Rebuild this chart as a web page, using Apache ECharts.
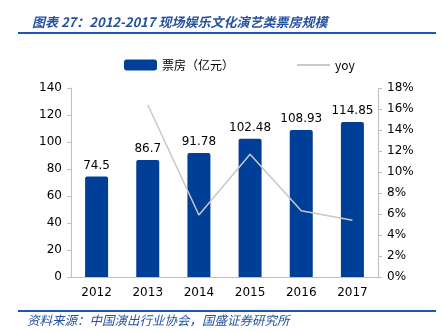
<!DOCTYPE html>
<html><head><meta charset="utf-8">
<script src="https://cdn.jsdelivr.net/npm/echarts@6/dist/echarts.min.js"></script>
<style>
html,body{margin:0;padding:0;background:#fff}
#c{width:443px;height:332px}
</style>
</head><body><div id="c"></div>
<script>
const years = ['2012','2013','2014','2015','2016','2017'];
const boxOffice = [74.5, 86.7, 91.78, 102.48, 108.93, 114.85];
const yoy = [null, 16.4, 5.9, 11.7, 6.3, 5.4];
const titleText = '图表 27：2012-2017 现场娱乐文化演艺类票房规模';
const sourceText = '资料来源：中国演出行业协会，国盛证券研究所';
const barName = '票房（亿元）';
const lineName = 'yoy';

const chart = echarts.init(document.getElementById('c'), null, {renderer:'canvas'});
const axisFont = {color:'#000', fontSize:12, fontFamily:'DejaVu Sans'};
chart.setOption({
  animation:false,
  backgroundColor:'#fff',
  title:{
    text:titleText, left:27, top:11,
    textStyle:{color:'#2450a0', fontStyle:'italic', fontWeight:'bold', fontSize:13, fontFamily:'Noto Sans CJK SC'}
  },
  graphic:[
    {type:'line', shape:{x1:18, y1:33, x2:436, y2:33}, style:{stroke:'#1f56b4', lineWidth:2}, z:10},
    {type:'line', shape:{x1:18, y1:311, x2:436, y2:311}, style:{stroke:'#1f56b4', lineWidth:2}, z:10},
    {type:'text', x:27, y:314, style:{text:sourceText, fill:'#2450a0', fontStyle:'italic', fontSize:12.5, fontFamily:'Noto Sans CJK SC'}, z:10}
  ],
  legend:{
    top:54, left:119, itemGap:62, itemWidth:33, itemHeight:11,
    textStyle:{color:'#000', fontSize:12, fontFamily:'Noto Sans CJK SC'},
    data:[{name:barName, icon:'roundRect'}, {name:lineName, itemStyle:{opacity:0}}]
  },
  grid:{left:71, right:65, top:88, bottom:55},
  xAxis:{
    type:'category', data:years,
    axisLine:{lineStyle:{color:'#bfbfbf'}},
    axisTick:{show:false},
    axisLabel:Object.assign({margin:10}, axisFont)
  },
  yAxis:[
    {type:'value', min:0, max:140, interval:20,
     axisLine:{show:true, lineStyle:{color:'#bfbfbf'}},
     axisTick:{show:true, length:4, lineStyle:{color:'#bfbfbf'}},
     splitLine:{show:false},
     axisLabel:Object.assign({margin:9}, axisFont)},
    {type:'value', min:0, max:18, interval:2, position:'right',
     axisLine:{show:true, lineStyle:{color:'#bfbfbf'}},
     axisTick:{show:true, length:4, lineStyle:{color:'#bfbfbf'}},
     splitLine:{show:false},
     axisLabel:Object.assign({margin:9, formatter:'{value}%'}, axisFont)}
  ],
  series:[
    {name:barName, type:'bar', data:boxOffice, barWidth:23,
     itemStyle:{color:'#003f98', borderRadius:[2,2,0,0]},
     label:{show:true, position:'top', distance:5, color:'#000', fontSize:12, fontFamily:'DejaVu Sans'}},
    {name:lineName, type:'line', yAxisIndex:1, data:yoy, symbol:'none',
     lineStyle:{color:'#c8c8c8', width:1.5}, itemStyle:{color:'#c8c8c8'}}
  ]
});
</script></body></html>
